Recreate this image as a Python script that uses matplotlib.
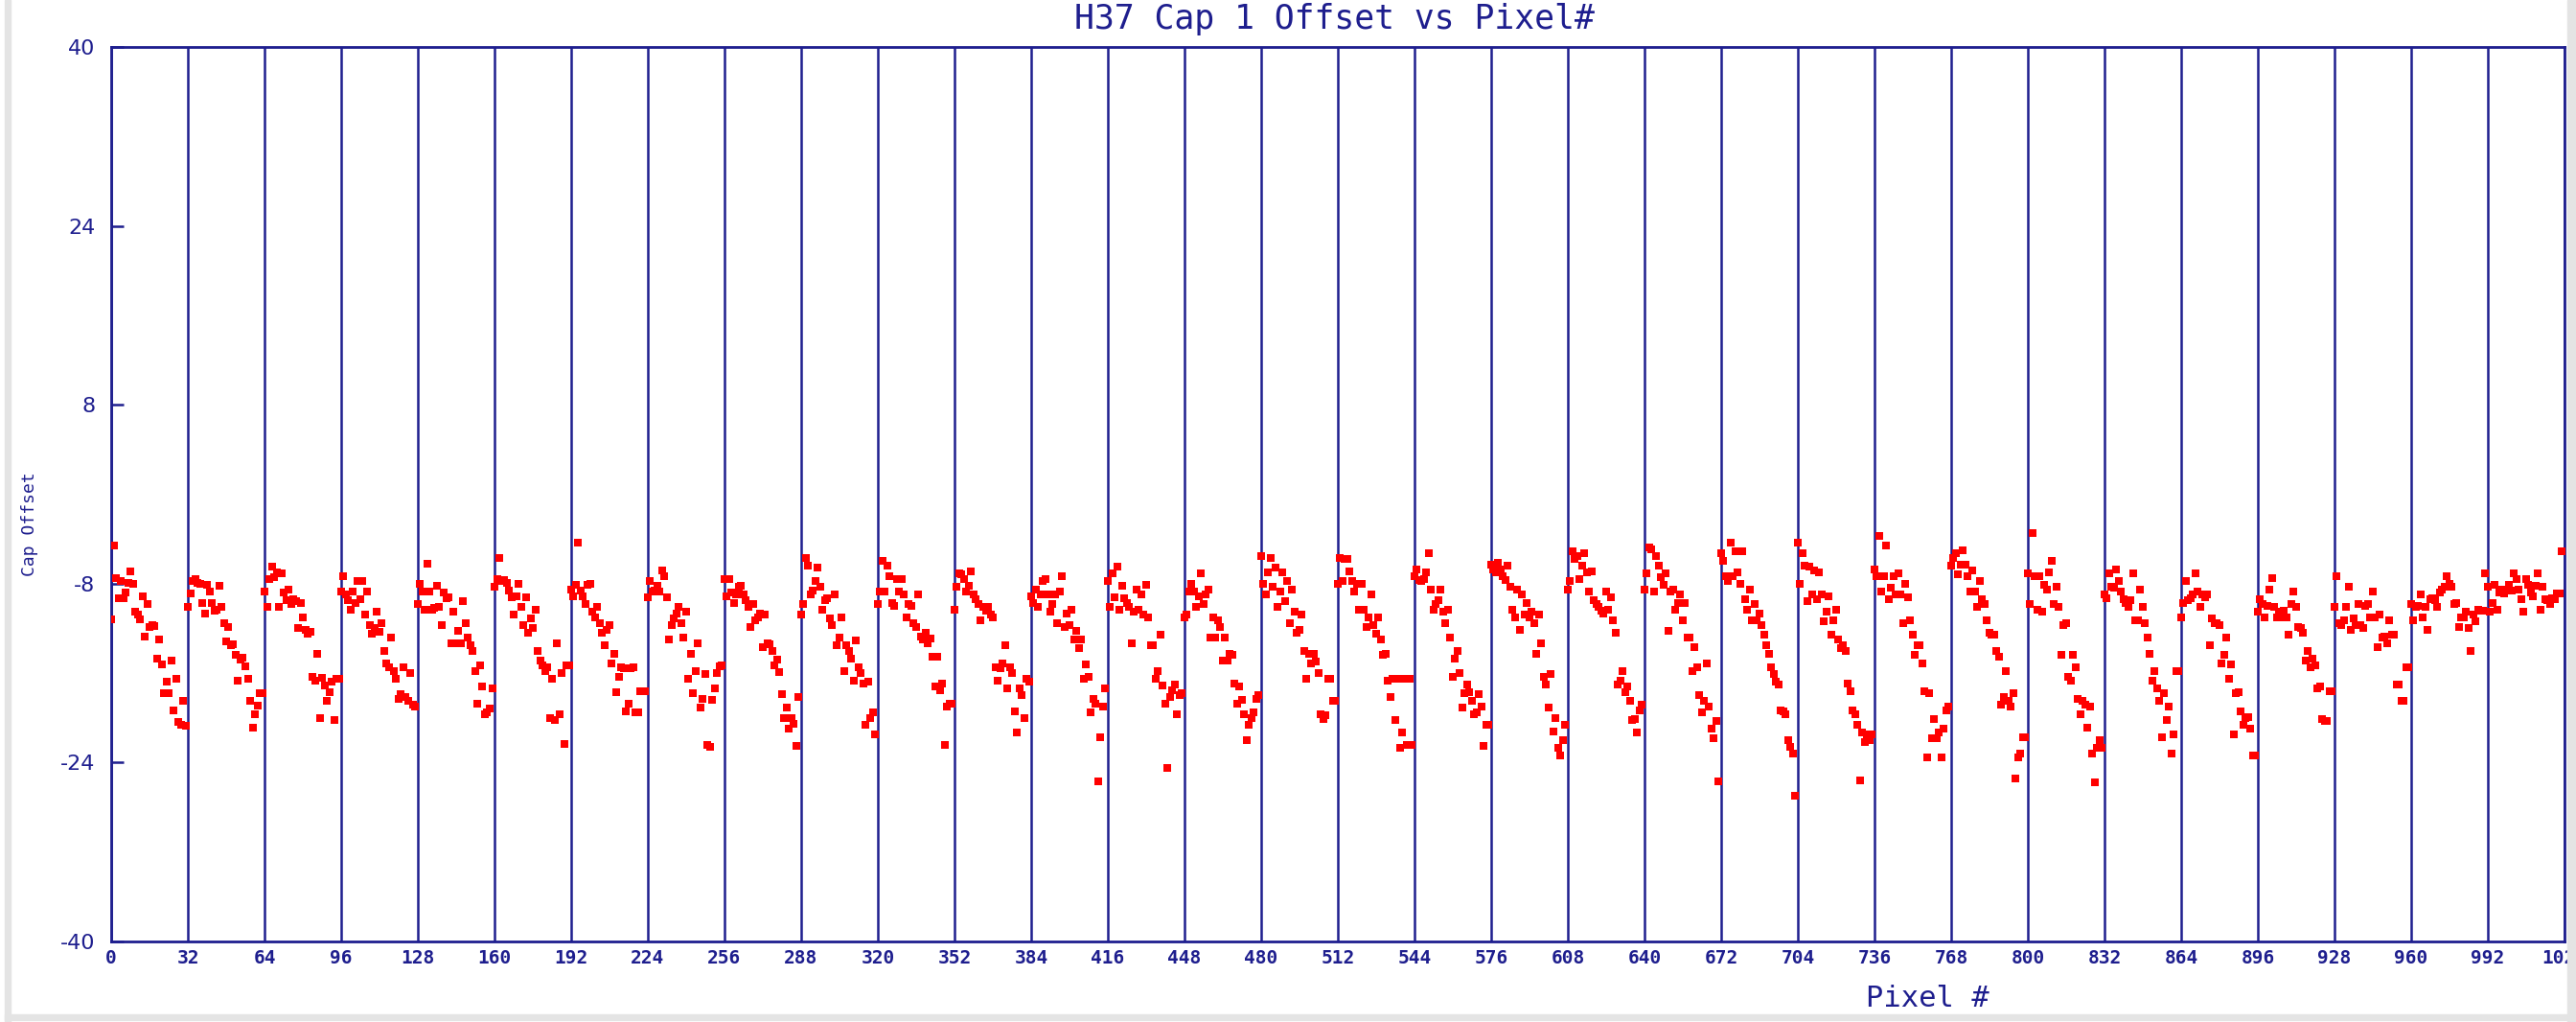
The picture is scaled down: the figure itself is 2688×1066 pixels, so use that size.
import numpy as np
import matplotlib
matplotlib.use('Agg')
import matplotlib.pyplot as plt
from matplotlib.patches import Rectangle

# cap 1 offset per pixel, one list per block of 32 pixels
seg00 = [-11.2, -4.6, -7.5, -9.3, -7.8, -9.3, -8.8, -7.9, -6.9, -8.0, -10.5, -10.8, -11.2, -9.1, -12.7, -9.8,
         -11.9, -11.7, -11.8, -14.7, -13.0, -15.2, -17.8, -16.8, -17.8, -14.9, -19.3, -16.5, -20.4, -20.6, -18.5, -20.7]
seg01 = [-10.1, -8.9, -7.8, -7.6, -7.9, -8.0, -9.7, -10.7, -8.1, -8.7, -9.7, -10.4, -10.3, -8.2, -10.1, -11.5,
         -13.2, -11.9, -13.5, -13.4, -14.4, -16.7, -14.8, -14.6, -15.4, -16.5, -18.5, -20.9, -19.7, -18.9, -17.8, -17.8]
seg02 = [-8.7, -10.1, -7.6, -6.5, -7.4, -7.0, -10.1, -7.1, -8.8, -9.5, -8.5, -9.8, -9.4, -9.6, -12.0, -9.7,
         -11.0, -12.1, -12.5, -12.3, -16.3, -16.7, -14.3, -20.0, -16.4, -17.1, -18.5, -17.7, -16.8, -20.2, -16.5, -16.5]
seg03 = [-8.7, -7.3, -9.0, -9.5, -10.3, -8.7, -9.7, -7.8, -9.4, -7.8, -10.8, -8.7, -11.7, -12.5, -12.0, -10.5,
         -12.3, -11.5, -14.0, -15.1, -15.5, -12.8, -15.8, -16.5, -18.3, -17.9, -15.5, -18.1, -18.5, -16.0, -18.8, -19.0]
seg04 = [-9.8, -8.0, -8.7, -10.3, -6.2, -8.7, -10.3, -10.2, -8.2, -10.1, -11.7, -8.8, -9.3, -9.2, -13.3, -10.5,
         -13.3, -12.2, -13.3, -9.6, -11.5, -12.8, -13.5, -14.0, -15.8, -18.7, -15.3, -17.2, -19.7, -19.5, -19.2, -17.4]
seg05 = [-8.3, -7.6, -5.7, -7.8, -7.7, -7.9, -8.6, -9.2, -10.8, -9.1, -8.0, -10.1, -11.7, -9.2, -12.4, -11.1,
         -12.0, -10.3, -14.0, -14.9, -15.3, -15.8, -15.5, -20.0, -16.5, -20.2, -13.3, -19.7, -16.0, -22.3, -15.3, -15.3]
seg06 = [-8.5, -9.1, -8.1, -4.3, -8.6, -9.1, -9.8, -8.1, -8.0, -10.5, -11.0, -10.1, -11.5, -12.4, -13.5, -12.1,
         -11.7, -15.1, -14.3, -17.7, -16.3, -15.5, -15.6, -19.4, -18.7, -15.6, -15.5, -19.5, -19.5, -17.6, -17.6, -17.6]
seg07 = [-9.2, -7.8, -8.7, -8.6, -8.2, -8.7, -6.8, -7.3, -9.2, -13.0, -11.7, -11.1, -10.7, -10.1, -11.5, -12.8,
         -10.5, -16.5, -14.3, -17.8, -15.8, -13.3, -19.1, -18.3, -16.1, -22.4, -22.6, -18.4, -17.4, -16.0, -15.4, -15.3]
seg08 = [-7.6, -9.1, -7.6, -8.8, -9.7, -9.0, -8.3, -8.2, -9.0, -9.5, -10.1, -11.9, -9.8, -11.3, -11.0, -10.7,
         -13.7, -10.8, -13.3, -13.4, -14.0, -15.3, -14.8, -15.9, -17.9, -20.0, -19.1, -21.0, -20.0, -20.5, -22.5, -18.1]
seg09 = [-10.8, -9.8, -5.7, -6.4, -9.0, -8.6, -7.8, -6.6, -8.3, -10.3, -9.5, -9.3, -11.1, -11.7, -9.0, -13.5,
         -12.8, -11.0, -15.8, -13.5, -14.0, -14.7, -16.7, -13.1, -15.5, -16.0, -16.9, -20.6, -16.8, -20.0, -19.5, -21.5]
seg10 = [-9.8, -8.7, -6.0, -8.7, -6.4, -7.3, -9.7, -10.0, -7.6, -8.7, -7.6, -9.0, -11.0, -9.8, -10.0, -11.5,
         -11.9, -9.0, -12.7, -13.0, -12.4, -13.3, -12.9, -14.5, -17.2, -14.5, -17.5, -16.9, -22.4, -19.0, -18.7, -18.7]
seg11 = [-10.3, -8.3, -7.1, -7.2, -7.6, -8.7, -8.2, -6.9, -9.0, -9.4, -9.8, -11.3, -10.1, -10.4, -10.1, -10.8,
         -11.0, -15.5, -16.7, -15.6, -15.1, -13.5, -17.4, -15.5, -16.0, -19.4, -21.3, -17.4, -18.0, -20.0, -16.5, -16.8]
seg12 = [-9.1, -9.7, -8.5, -10.1, -9.0, -7.8, -7.6, -9.0, -10.5, -9.8, -9.0, -11.5, -8.7, -7.3, -11.9, -10.7,
         -11.7, -10.3, -13.0, -12.2, -13.8, -13.0, -16.5, -15.2, -16.3, -19.5, -18.3, -18.7, -25.7, -21.7, -19.0, -17.4]
seg13 = [-7.8, -10.1, -7.1, -9.2, -6.5, -10.3, -8.2, -9.3, -9.7, -10.1, -13.3, -10.5, -8.5, -10.3, -9.0, -10.8,
         -8.1, -11.0, -13.5, -13.5, -16.5, -15.8, -12.6, -17.1, -18.7, -24.5, -18.1, -17.5, -17.0, -19.7, -18.0, -17.8]
seg14 = [-11.0, -10.8, -8.7, -8.0, -8.7, -10.1, -9.1, -7.1, -9.8, -9.0, -8.5, -12.8, -11.0, -12.8, -11.3, -11.9,
         -14.9, -12.8, -14.9, -14.3, -14.4, -16.9, -18.7, -17.2, -18.4, -19.7, -22.0, -20.6, -20.0, -19.5, -18.3, -18.0]
seg15 = [-5.5, -8.0, -9.0, -7.0, -5.7, -8.3, -6.6, -10.1, -8.7, -7.0, -9.6, -7.8, -11.5, -8.5, -10.5, -12.4,
         -12.1, -10.8, -14.0, -16.5, -14.3, -15.1, -14.3, -15.0, -16.0, -19.7, -20.1, -19.8, -16.5, -16.5, -18.5, -18.5]
seg16 = [-8.0, -5.7, -7.8, -5.8, -5.8, -6.9, -7.8, -8.7, -8.0, -10.3, -8.0, -10.3, -11.9, -11.0, -9.0, -11.7,
         -12.5, -11.0, -13.0, -14.4, -14.3, -16.7, -18.1, -16.5, -20.2, -16.5, -22.7, -21.3, -16.5, -22.4, -16.5, -22.4]
seg17 = [-7.3, -6.7, -7.7, -7.8, -7.6, -7.0, -5.3, -8.5, -10.3, -9.8, -9.5, -8.5, -10.5, -11.5, -10.3, -12.8,
         -16.3, -14.7, -14.0, -16.0, -19.1, -17.8, -17.0, -17.7, -18.5, -19.7, -19.5, -17.9, -19.0, -22.5, -20.6, -20.6]
seg18 = [-6.3, -6.7, -7.0, -6.1, -6.7, -7.3, -7.7, -6.4, -8.3, -10.3, -11.0, -8.5, -12.1, -9.0, -10.8, -9.7,
         -11.0, -10.5, -11.5, -14.3, -10.8, -13.3, -16.3, -17.0, -19.1, -16.1, -21.2, -20.0, -22.7, -23.4, -22.0, -20.6]
seg19 = [-8.5, -7.8, -5.1, -5.8, -5.5, -7.6, -6.4, -5.3, -7.0, -8.7, -6.9, -9.5, -9.8, -10.1, -10.4, -10.7,
         -8.7, -10.3, -9.2, -11.3, -12.4, -17.0, -16.7, -15.8, -17.7, -17.2, -18.5, -20.2, -20.1, -21.3, -19.3, -18.8]
seg20 = [-8.5, -7.1, -4.8, -4.9, -8.7, -5.5, -6.4, -7.4, -8.1, -7.1, -12.2, -8.7, -8.5, -10.3, -9.7, -9.0,
         -11.3, -9.7, -12.8, -12.8, -15.8, -13.7, -15.5, -18.0, -19.5, -18.5, -15.1, -19.0, -21.0, -21.8, -20.3, -25.7]
seg21 = [-5.3, -6.0, -7.3, -7.8, -4.3, -7.3, -5.1, -7.0, -8.0, -5.1, -9.4, -10.3, -8.5, -11.3, -9.8, -11.3,
         -10.7, -11.7, -12.6, -13.5, -14.3, -15.5, -16.1, -16.8, -17.0, -19.3, -19.4, -19.7, -22.0, -22.6, -23.2, -27.0]
seg22 = [-4.3, -8.0, -5.3, -6.4, -9.6, -6.5, -9.0, -6.8, -9.4, -7.0, -9.0, -11.4, -10.5, -9.1, -12.6, -11.3,
         -10.3, -13.0, -13.8, -13.5, -14.0, -16.9, -17.6, -19.3, -19.7, -20.6, -25.6, -21.3, -22.2, -21.5, -22.0, -21.5]
seg23 = [-6.7, -7.3, -3.7, -8.7, -7.3, -4.6, -9.4, -8.4, -7.3, -9.0, -7.1, -9.0, -11.5, -8.0, -9.2, -11.3,
         -12.6, -14.4, -13.5, -13.5, -15.1, -17.6, -23.5, -17.8, -21.8, -20.1, -21.8, -21.3, -23.5, -21.0, -19.3, -19.0]
seg24 = [-6.4, -5.7, -5.3, -7.2, -6.3, -5.0, -6.3, -7.3, -8.7, -6.8, -8.7, -10.1, -7.8, -9.4, -9.8, -11.3,
         -12.4, -12.6, -12.6, -14.0, -14.5, -18.8, -18.1, -15.8, -18.5, -19.0, -17.8, -25.4, -23.5, -23.2, -21.7, -21.7]
seg25 = [-7.1, -9.8, -3.5, -7.3, -10.3, -7.3, -10.5, -8.1, -8.5, -7.0, -6.0, -9.8, -8.3, -10.1, -14.4, -11.7,
         -11.5, -16.3, -16.7, -14.4, -15.5, -18.3, -19.7, -18.5, -18.8, -20.9, -19.0, -23.2, -25.8, -22.7, -22.0, -22.7]
seg26 = [-9.0, -9.3, -7.1, -8.3, -8.4, -6.7, -7.8, -8.7, -9.4, -9.7, -10.1, -9.5, -7.1, -11.3, -11.3, -8.5,
         -10.1, -11.5, -12.8, -14.3, -16.7, -15.8, -17.4, -18.5, -21.7, -17.8, -20.2, -19.0, -23.2, -21.5, -15.8, -15.8]
seg27 = [-11.0, -9.7, -7.8, -9.5, -9.3, -9.0, -7.1, -8.7, -10.1, -9.0, -9.2, -9.0, -13.5, -11.1, -11.5, -11.5,
         -11.7, -15.1, -14.4, -12.8, -16.5, -15.2, -21.5, -17.8, -17.7, -19.4, -20.6, -20.0, -19.9, -21.0, -23.4, -23.4]
seg28 = [-10.5, -9.4, -9.8, -11.0, -10.0, -8.5, -7.5, -10.1, -11.0, -10.5, -11.0, -10.4, -11.0, -12.6, -9.8, -8.7,
         -10.1, -11.9, -12.0, -12.4, -14.9, -14.0, -15.5, -14.7, -15.3, -17.4, -17.2, -20.1, -20.3, -20.3, -17.6, -17.6]
seg29 = [-10.1, -7.3, -11.5, -11.7, -11.3, -10.1, -8.3, -12.1, -11.1, -11.7, -9.8, -11.7, -12.0, -10.0, -9.8, -11.0,
         -8.7, -11.0, -13.7, -10.8, -12.8, -12.7, -13.3, -11.3, -12.6, -12.6, -17.0, -17.0, -18.5, -18.5, -15.5, -15.5]
seg30 = [-9.8, -11.3, -10.1, -10.0, -9.0, -11.0, -10.1, -12.1, -9.4, -9.3, -9.5, -10.1, -8.8, -8.5, -8.3, -7.3,
         -8.0, -8.3, -9.8, -9.7, -11.9, -11.0, -11.0, -10.5, -12.0, -14.0, -10.8, -11.4, -10.3, -10.4, -10.4, -7.1]
seg31 = [-8.3, -10.5, -9.7, -8.1, -10.3, -8.8, -8.5, -8.9, -8.5, -8.1, -8.6, -7.1, -7.6, -8.5, -9.4, -10.5,
         -7.6, -8.1, -8.8, -9.1, -8.2, -7.1, -10.3, -8.3, -9.4, -9.5, -9.8, -9.3, -9.4, -8.9, -8.9, -5.1]

cap_offset = (seg00 + seg01 + seg02 + seg03 + seg04 + seg05 + seg06 + seg07 +
              seg08 + seg09 + seg10 + seg11 + seg12 + seg13 + seg14 + seg15 +
              seg16 + seg17 + seg18 + seg19 + seg20 + seg21 + seg22 + seg23 +
              seg24 + seg25 + seg26 + seg27 + seg28 + seg29 + seg30 + seg31)
pixel = np.arange(len(cap_offset))

x_ticks = list(range(0, 1025, 32))
y_ticks = [-40, -24, -8, 8, 24, 40]

navy = '#1e1e8e'

fig = plt.figure(figsize=(26.88, 10.66), dpi=100)
ax = fig.add_axes([116 / 2688, 1 - 982 / 1066, 2560 / 2688, 933 / 1066])

ax.scatter(pixel, cap_offset, marker='s', s=30, color='#ff0000', linewidths=0, zorder=3)

ax.set_xlim(0, 1024)
ax.set_ylim(-40, 40)
ax.set_xticks(x_ticks)
# the last label (1024) is cut by the window edge, as in the original
ax.set_xticklabels([str(t) for t in x_ticks], family='DejaVu Sans Mono', fontweight='bold',
                   fontsize=14, color=navy)
ax.set_yticks(y_ticks)
ax.set_yticklabels([str(t) for t in y_ticks], fontsize=16, color=navy)
ax.tick_params(axis='x', length=0, pad=6)
ax.tick_params(axis='y', direction='in', length=9, width=1.8, color=navy, pad=12)
ax.grid(axis='x', color=navy, linewidth=1.8, zorder=1)
ax.set_axisbelow(True)
for sp in ax.spines.values():
    sp.set_color(navy)
    sp.set_linewidth(2)

fig.text(0.518, 0.981, 'H37 Cap 1 Offset vs Pixel#', ha='center', va='center',
         family='DejaVu Sans Mono', fontsize=25, color=navy)
fig.text(2011 / 2688, 1 - 1042 / 1066, 'Pixel #', ha='center', va='center',
         family='DejaVu Sans Mono', fontsize=22, color=navy)
fig.text(31 / 2688, 1 - 547 / 1066, 'Cap Offset', ha='center', va='center', rotation=90,
         family='DejaVu Sans Mono', fontsize=13, color=navy)

# light grey frame of the original screenshot
grey = '#e4e4e4'
fig.add_artist(Rectangle((5 / 2688, 0), 6 / 2688, 1, transform=fig.transFigure, color=grey, zorder=10))
fig.add_artist(Rectangle((2679 / 2688, 0), 9 / 2688, 1, transform=fig.transFigure, color=grey, zorder=10))
fig.add_artist(Rectangle((5 / 2688, 2 / 1066), 2683 / 2688, 6 / 1066, transform=fig.transFigure, color=grey, zorder=10))

fig.savefig('out.png', dpi=100)
